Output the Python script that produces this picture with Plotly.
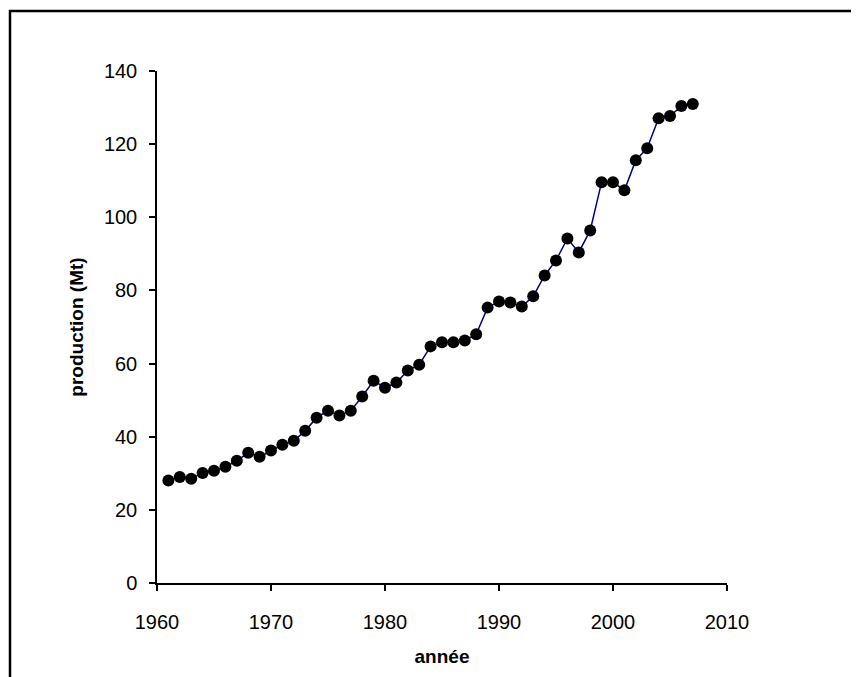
import plotly.graph_objects as go

years = list(range(1961, 2008))
production = [28.0, 29.0, 28.5, 30.1, 30.7, 31.8, 33.4, 35.6, 34.5, 36.2,
              37.8, 38.9, 41.6, 45.2, 47.1, 45.8, 47.1, 51.0, 55.3, 53.4,
              54.8, 58.1, 59.7, 64.7, 65.8, 65.8, 66.3, 68.0, 75.3, 77.0,
              76.7, 75.6, 78.4, 84.1, 88.2, 94.2, 90.4, 96.4, 109.6, 109.6,
              107.4, 115.6, 118.9, 127.1, 127.7, 130.4, 131.0]

x_ticks = [1960, 1970, 1980, 1990, 2000, 2010]
y_ticks = [0, 20, 40, 60, 80, 100, 120, 140]

fig = go.Figure()
fig.add_trace(go.Scatter(
    x=years, y=production, mode="lines+markers",
    line=dict(color="#000080", width=1.5),
    marker=dict(color="black", size=12),
    showlegend=False,
))

# page body has an 8px margin
L, R, T, B = 149, 132, 63, 94
W, H = 851, 669
pw, ph = W - L - R, H - T - B

fig.update_layout(
    width=W, height=H,
    margin=dict(l=L, r=R, t=T, b=B),
    paper_bgcolor="white", plot_bgcolor="white",
    font=dict(family="Liberation Sans, Arial, sans-serif", size=20, color="black"),
    xaxis=dict(
        range=[1960, 2010], tickvals=x_ticks, ticktext=[str(v) for v in x_ticks],
        showgrid=False, zeroline=False, showline=True, linecolor="black", linewidth=1.5,
        ticks="outside", ticklen=6, tickwidth=1.5, tickcolor="black",
        tickfont=dict(size=20), ticklabelstandoff=14,
        title=dict(text="<b>année</b>", font=dict(size=19), standoff=18),
    ),
    yaxis=dict(
        range=[0, 140], tickvals=y_ticks, ticktext=[str(v) for v in y_ticks],
        showgrid=False, zeroline=False, showline=True, linecolor="black", linewidth=1.5,
        ticks="outside", ticklen=6, tickwidth=1.5, tickcolor="black",
        tickfont=dict(size=20), ticklabelstandoff=8,
        title=dict(text="<b>production (Mt)</b>", font=dict(size=19), standoff=15),
    ),
    shapes=[dict(
        type="rect", xref="paper", yref="paper",
        x0=(2 - L) / pw, x1=(880 - L) / pw,
        y0=(H - B - 720) / ph, y1=(H - B - 3) / ph,
        line=dict(color="black", width=2.5), fillcolor="rgba(0,0,0,0)", layer="below",
    )],
)

fig.write_html("out.html")
